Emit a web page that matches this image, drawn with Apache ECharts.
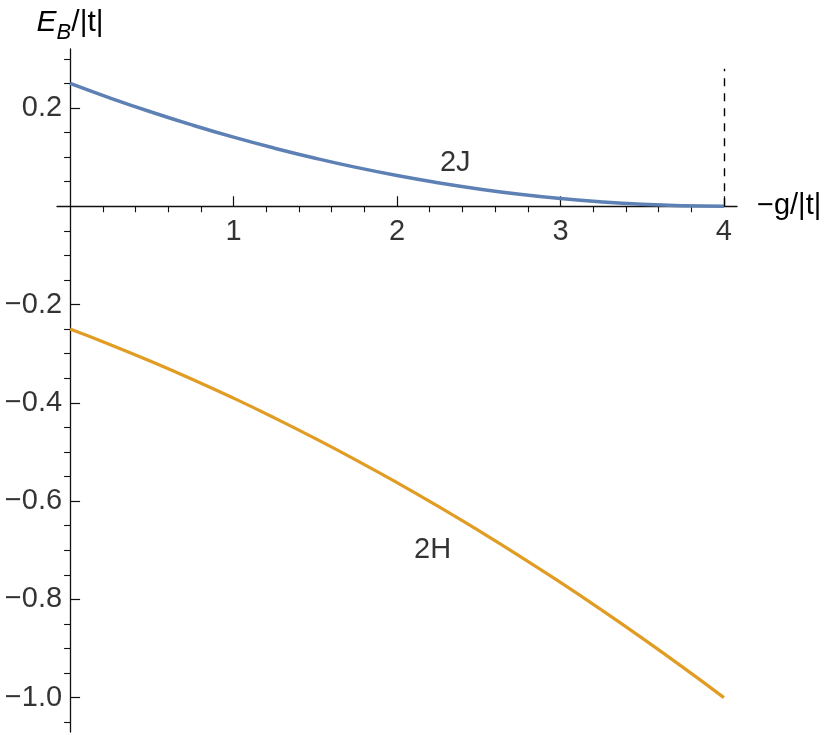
<!DOCTYPE html>
<html>
<head>
<meta charset="utf-8">
<script src="https://cdn.jsdelivr.net/npm/echarts@6/dist/echarts.min.js"></script>
<style>
html,body{margin:0;padding:0;background:#fff;}
#chart{width:830px;height:735px;}
</style>
</head>
<body>
<div id="chart"></div>
<script>
// ---- data ----
const xValues = [0, 0.25, 0.5, 0.75, 1, 1.25, 1.5, 1.75, 2, 2.25, 2.5, 2.75, 3, 3.25, 3.5, 3.75, 4];
const series2J = [0.25, 0.2197, 0.1914, 0.1650, 0.1406, 0.1182, 0.0977, 0.0791, 0.0625, 0.0479, 0.0352, 0.0244, 0.0156, 0.0088, 0.0039, 0.0010, 0];
const series2H = [-0.25, -0.2822, -0.3164, -0.3525, -0.3906, -0.4307, -0.4727, -0.5166, -0.5625, -0.6104, -0.6602, -0.7119, -0.7656, -0.8213, -0.8789, -0.9385, -1.0];
const xMajorTicks = [1, 2, 3, 4];
const xMinorTicks = [0.2, 0.4, 0.6, 0.8, 1.2, 1.4, 1.6, 1.8, 2.2, 2.4, 2.6, 2.8, 3.2, 3.4, 3.6, 3.8];
const yMajorTicks = [0.2, -0.2, -0.4, -0.6, -0.8, -1.0];
const yMinorTicks = [0.3, 0.25, 0.15, 0.1, 0.05, -0.05, -0.1, -0.15, -0.25, -0.3, -0.35, -0.45, -0.5, -0.55, -0.65, -0.7, -0.75, -0.85, -0.9, -0.95, -1.05];
const curveLabels = [{ name: '2J', x: 2.356, y: 0.087 }, { name: '2H', x: 2.218, y: -0.700 }];
const thresholdX = 4;
const thresholdTop = 0.28;

const FONT = '"Liberation Sans", Arial, sans-serif';
const AXIS_COLOR = '#111';
const TICK_FONT = 29;

function fmtY(v) {
  return v < 0 ? '\u2212' + Math.abs(v).toFixed(1) : v.toFixed(1);
}
function fmtX(v) {
  return String(Math.round(v));
}

const chart = echarts.init(document.getElementById('chart'), null, { renderer: 'canvas' });

const xRange = { min: -0.08, max: 4.08 };
const yRange = { min: -1.07, max: 0.32 };

const option = {
  animation: false,
  backgroundColor: '#fff',
  grid: { left: 57, right: 93, top: 49, bottom: 3, containLabel: false, outerBoundsMode: 'none' },
  xAxis: [
    {
      type: 'value', min: xRange.min, max: xRange.max,
      axisLine: { show: true, onZero: true, onZeroAxisIndex: 0, lineStyle: { color: AXIS_COLOR, width: 1.3 } },
      axisTick: { show: true, inside: true, length: 10, customValues: xMajorTicks, lineStyle: { color: AXIS_COLOR, width: 1.2 } },
      axisLabel: { show: false },
      splitLine: { show: false },
      name: '\u2212g/|t|', nameLocation: 'end', nameGap: 20,
      nameTextStyle: { fontSize: 29, fontFamily: FONT, color: '#000', verticalAlign: 'middle', padding: [0, 0, 6, 0] }
    },
    {
      type: 'value', min: xRange.min, max: xRange.max,
      axisLine: { show: false, onZero: true, onZeroAxisIndex: 0 },
      axisTick: { show: true, inside: true, length: 6, customValues: xMinorTicks, lineStyle: { color: AXIS_COLOR, width: 1.1 } },
      axisLabel: { show: false },
      splitLine: { show: false }
    }
  ],
  yAxis: [
    {
      type: 'value', min: yRange.min, max: yRange.max,
      axisLine: { show: true, onZero: true, onZeroAxisIndex: 0, lineStyle: { color: AXIS_COLOR, width: 1.3 } },
      axisTick: { show: true, inside: true, length: 10, customValues: yMajorTicks, lineStyle: { color: AXIS_COLOR, width: 1.2 } },
      axisLabel: { show: false },
      splitLine: { show: false },
      name: '{e|E}{b|B}{n|/|t|}', nameLocation: 'end', nameGap: 10,
      nameTextStyle: {
        fontFamily: FONT, color: '#000', align: 'center', verticalAlign: 'bottom',
        rich: {
          e: { fontSize: 30, fontStyle: 'italic', fontFamily: FONT, color: '#000', lineHeight: 31, verticalAlign: 'top' },
          b: { fontSize: 22, fontStyle: 'italic', fontFamily: FONT, color: '#000', lineHeight: 22, padding: [14, 0, 0, 0], verticalAlign: 'top' },
          n: { fontSize: 30, fontFamily: FONT, color: '#000', lineHeight: 31, verticalAlign: 'top' }
        }
      }
    },
    {
      type: 'value', min: yRange.min, max: yRange.max,
      axisLine: { show: false, onZero: true, onZeroAxisIndex: 0 },
      axisTick: { show: true, inside: true, length: 6, customValues: yMinorTicks, lineStyle: { color: AXIS_COLOR, width: 1.1 } },
      axisLabel: { show: false },
      splitLine: { show: false }
    }
  ],
  series: [
    {
      name: '2J', type: 'line', xAxisIndex: 0, yAxisIndex: 0,
      data: xValues.map((x, i) => [x, series2J[i]]),
      smooth: true, showSymbol: false, symbol: 'none',
      lineStyle: { color: '#5E81B5', width: 3.5 },
      markLine: {
        silent: true, symbol: ['none', 'none'], label: { show: false },
        lineStyle: { color: '#000', type: [8, 7], width: 1.4 },
        data: [[{ coord: [thresholdX, 0] }, { coord: [thresholdX, thresholdTop] }]]
      },
      z: 3
    },
    {
      name: '2H', type: 'line', xAxisIndex: 0, yAxisIndex: 0,
      data: xValues.map((x, i) => [x, series2H[i]]),
      smooth: true, showSymbol: false, symbol: 'none',
      lineStyle: { color: '#E19C24', width: 3.2 },
      z: 3
    },
    {
      name: 'curveLabels', type: 'scatter', xAxisIndex: 0, yAxisIndex: 0,
      symbolSize: 0, silent: true,
      data: curveLabels.map(d => ({ name: d.name, value: [d.x, d.y] })),
      label: { show: true, position: 'inside', formatter: p => p.name, fontSize: 29, fontFamily: FONT, color: '#000' },
      z: 4
    },
    {
      name: 'xTickLabels', type: 'scatter', xAxisIndex: 0, yAxisIndex: 0,
      symbolSize: 0, silent: true,
      data: xMajorTicks.map(v => ({ name: fmtX(v), value: [v, 0] })),
      label: { show: true, position: 'bottom', distance: 11, formatter: p => p.name, fontSize: TICK_FONT, fontFamily: FONT, color: '#000' },
      z: 4
    },
    {
      name: 'yTickLabels', type: 'scatter', xAxisIndex: 0, yAxisIndex: 0,
      symbolSize: 0, silent: true,
      data: yMajorTicks.map(v => ({ name: fmtY(v), value: [0, v] })),
      label: { show: true, position: 'left', distance: 8, formatter: p => p.name, fontSize: TICK_FONT, fontFamily: FONT, color: '#000' },
      z: 4
    }
  ]
};
chart.setOption(option);
</script>
</body>
</html>
